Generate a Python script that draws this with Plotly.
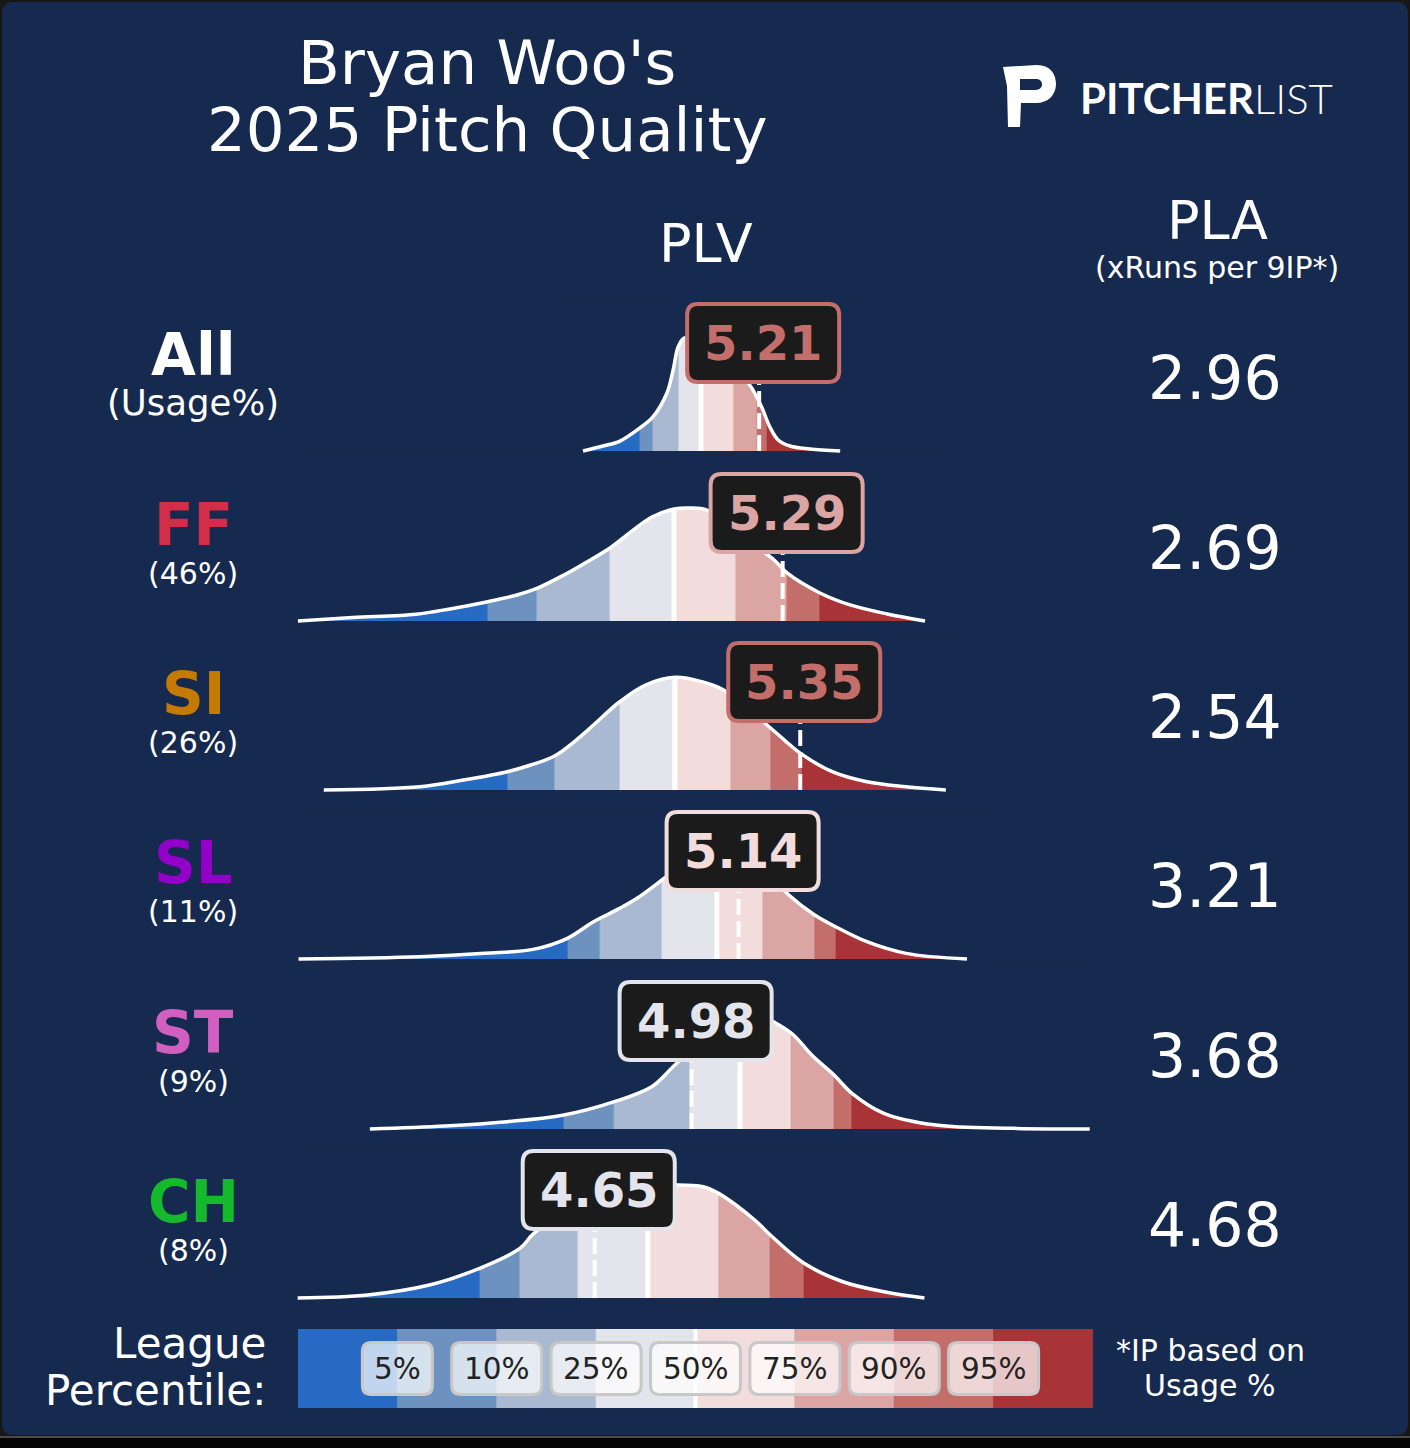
import numpy as np
import plotly.graph_objects as go

W, H = 1410, 1448
NAVY = '#16294f'
FONT = 'DejaVu Sans'

PITCHES = ['All', 'FF', 'SI', 'SL', 'ST', 'CH']
USAGE = ['(Usage%)', '(46%)', '(26%)', '(11%)', '(9%)', '(8%)']
PITCH_COLORS = ['#ffffff', '#d22d49', '#c57a02', '#9300c7', '#d15fc0', '#14ba2c']
PLV = [5.21, 5.29, 5.35, 5.14, 4.98, 4.65]
PLA = [2.96, 2.69, 2.54, 3.21, 3.68, 4.68]

PCTL_LABELS = ['5%', '10%', '25%', '50%', '75%', '90%', '95%']
BAND_COLORS = ['#266ac4', '#6e92c0', '#a9b9d1', '#e4e5ec',
               '#f2dcdc', '#daa5a2', '#c46e6c', '#a83438']

# density curves: x in PLV, y relative to the peak height
ALL_X = [4.610, 4.678, 4.736, 4.804, 4.848, 4.896, 4.917, 4.934, 4.954, 4.981, 5.026,
         5.077, 5.128, 5.179, 5.203, 5.220, 5.247, 5.274, 5.315, 5.383, 5.486]
ALL_Y = [0, 0.044, 0.088, 0.204, 0.301, 0.513, 0.717, 0.920, 1.0, 0.99, 0.93,
         0.85, 0.72, 0.58, 0.47, 0.38, 0.21, 0.10, 0.044, 0.018, 0]
ALL_PCTL = [4.804, 4.848, 4.937, 5.012, 5.124, 5.203, 5.237]

FF_X = [3.639, 3.826, 4.041, 4.157, 4.286, 4.385, 4.453, 4.545, 4.617, 4.702, 4.773, 4.845,
        4.920, 4.974, 5.032, 5.131, 5.179, 5.261, 5.305, 5.417, 5.520, 5.646, 5.775]
FF_Y = [0, 0.03, 0.06, 0.107, 0.171, 0.230, 0.289, 0.407, 0.513, 0.646, 0.788, 0.920,
        0.991, 1.0, 0.982, 0.805, 0.699, 0.540, 0.425, 0.248, 0.142, 0.062, 0]
FF_PCTL = [4.286, 4.453, 4.702, 4.920, 5.131, 5.305, 5.417]

SI_X = [3.727, 4.055, 4.203, 4.353, 4.432, 4.513, 4.587, 4.646, 4.735, 4.823, 4.924,
        5.015, 5.089, 5.163, 5.237, 5.296, 5.351, 5.459, 5.577, 5.710, 5.846]
SI_Y = [0, 0.029, 0.088, 0.162, 0.221, 0.301, 0.442, 0.575, 0.781, 0.929, 0.997,
        0.958, 0.885, 0.737, 0.575, 0.442, 0.324, 0.162, 0.073, 0.029, 0]
SI_PCTL = [4.354, 4.514, 4.736, 4.923, 5.114, 5.250, 5.356]

SL_X = [3.641, 4.054, 4.276, 4.440, 4.557, 4.646, 4.735, 4.794, 4.879, 4.940,
        5.009, 5.094, 5.179, 5.247, 5.311, 5.399, 5.470, 5.577, 5.710, 5.918]
SL_Y = [0, 0.02, 0.05, 0.085, 0.183, 0.330, 0.448, 0.537, 0.699, 0.82,
        0.94, 1.0, 0.92, 0.74, 0.566, 0.389, 0.286, 0.153, 0.05, 0]
SL_PCTL = [4.559, 4.668, 4.879, 5.066, 5.223, 5.400, 5.472]

ST_X = [3.884, 4.140, 4.351, 4.545, 4.717, 4.844, 4.923, 5.009, 5.077, 5.162, 5.213,
        5.266, 5.327, 5.389, 5.465, 5.526, 5.635, 5.812, 6.075, 6.336]
ST_Y = [0, 0.027, 0.065, 0.124, 0.242, 0.374, 0.566, 0.761, 0.894, 0.982, 1.0,
        0.938, 0.832, 0.655, 0.478, 0.316, 0.139, 0.035, 0.006, 0.0]
ST_PCTL = [4.545, 4.716, 4.974, 5.145, 5.319, 5.465, 5.526]

CH_X = [3.638, 3.876, 4.087, 4.258, 4.395, 4.440, 4.532, 4.668, 4.804, 4.923, 5.019,
        5.072, 5.195, 5.248, 5.363, 5.495, 5.636, 5.773]
CH_Y = [0, 0.027, 0.115, 0.263, 0.439, 0.565, 0.73, 0.885, 0.975, 1.0, 0.985,
        0.926, 0.69, 0.558, 0.307, 0.144, 0.055, 0.0]
CH_PCTL = [4.259, 4.395, 4.593, 4.831, 5.073, 5.247, 5.363]

MEDIAN_H = [0.95, 0.99, 0.99, 0.98, 0.97, 0.99]

CURVES = [(ALL_X, ALL_Y, ALL_PCTL), (FF_X, FF_Y, FF_PCTL), (SI_X, SI_Y, SI_PCTL),
          (SL_X, SL_Y, SL_PCTL), (ST_X, ST_Y, ST_PCTL), (CH_X, CH_Y, CH_PCTL)]

# layout (pixels)
ROW_BASE = [451, 621, 790, 959, 1129, 1298]
PEAK_PX = 113
PX_PER_PLV = 293.5
X_DOM_PX = (290, 1100)
XRANGE = [3.612, 6.371]
Y_LO, Y_HI = -0.05, 1.4
LEG_X_PX = (298, 1093)
LEG_Y_PX = (1329, 1408)


def pxx(x):
    return x / W


def pxy(y):
    return 1 - y / H


def rrect(x0, y0, x1, y1, rx, ry):
    return (f'M{x0 + rx},{y0} L{x1 - rx},{y0} Q{x1},{y0} {x1},{y0 + ry} '
            f'L{x1},{y1 - ry} Q{x1},{y1} {x1 - rx},{y1} L{x0 + rx},{y1} '
            f'Q{x0},{y1} {x0},{y1 - ry} L{x0},{y0 + ry} Q{x0},{y0} {x0 + rx},{y0} Z')


def axname(i):
    return ('x', 'y') if i == 0 else (f'x{i + 1}', f'y{i + 1}')


fig = go.Figure()
layout_axes = {}
annotations = []
shapes = []

for i, (cx, cy, pc) in enumerate(CURVES):
    xa, ya = axname(i)
    base = ROW_BASE[i]
    bottom = base - Y_LO * PEAK_PX
    top = base - Y_HI * PEAK_PX
    key = '' if i == 0 else str(i + 1)
    layout_axes['xaxis' + key] = dict(domain=[pxx(X_DOM_PX[0]), pxx(X_DOM_PX[1])], range=XRANGE,
                                      visible=False, anchor=ya, fixedrange=True)
    layout_axes['yaxis' + key] = dict(domain=[pxy(bottom), pxy(top)], range=[Y_LO, Y_HI],
                                      visible=False, anchor=xa, fixedrange=True)

    # percentile bands
    edges = [cx[0]] + pc + [cx[-1]]
    for k, col in enumerate(BAND_COLORS):
        a, b = edges[k], edges[k + 1]
        fig.add_trace(go.Scatter(x=[a, a, b, b], y=[0, 1.15, 1.15, 0], fill='toself', fillcolor=col,
                                 mode='lines', line=dict(width=0.8, color=col),
                                 xaxis=xa, yaxis=ya, hoverinfo='skip'))
    # cover everything above the curve
    d = 0.08
    mx = [cx[0] - d, cx[0] - d] + cx + [cx[-1] + d, cx[-1] + d]
    my = [Y_HI, 0] + cy + [0, Y_HI]
    fig.add_trace(go.Scatter(x=mx, y=my, fill='toself', fillcolor=NAVY, mode='lines',
                             line=dict(width=0, color=NAVY, shape='spline', smoothing=1),
                             xaxis=xa, yaxis=ya, hoverinfo='skip'))
    # median
    fig.add_trace(go.Scatter(x=[pc[3], pc[3]], y=[0, MEDIAN_H[i]], mode='lines',
                             line=dict(color='white', width=5), xaxis=xa, yaxis=ya, hoverinfo='skip'))
    # pitcher's value
    v = PLV[i]
    fig.add_trace(go.Scatter(x=[v, v], y=[0, 0.95], mode='lines',
                             line=dict(color='white', width=4, dash='16px,6px'),
                             xaxis=xa, yaxis=ya, hoverinfo='skip'))
    # outline
    fig.add_trace(go.Scatter(x=cx, y=cy, mode='lines',
                             line=dict(color='white', width=3.5, shape='spline', smoothing=1),
                             xaxis=xa, yaxis=ya, hoverinfo='skip'))

    # value label
    band = int(np.searchsorted(pc, v))
    col = BAND_COLORS[band]
    bx = v + 4 / PX_PER_PLV
    by = 0.955
    hw, hh = 76 / PX_PER_PLV, 39 / PEAK_PX
    shapes.append(dict(type='path', xref=xa, yref=ya, layer='above',
                       path=rrect(bx - hw, by - hh, bx + hw, by + hh, 11 / PX_PER_PLV, 11 / PEAK_PX),
                       fillcolor='#1b1b1b', line=dict(color=col, width=4)))
    annotations.append(dict(xref=xa, yref=ya, x=bx, y=by, text=f'{v:.2f}', showarrow=False,
                            xanchor='center', yanchor='middle',
                            font=dict(family=FONT, size=48, color=col, weight='bold')))

    # row label, usage and PLA
    annotations.append(dict(xref='paper', yref='paper', x=pxx(193), y=pxy(base - 96), text=PITCHES[i],
                            showarrow=False, xanchor='center', yanchor='middle',
                            font=dict(family=FONT, size=58, color=PITCH_COLORS[i], weight='bold')))
    annotations.append(dict(xref='paper', yref='paper', x=pxx(193), y=pxy(base - 48), text=USAGE[i],
                            showarrow=False, xanchor='center', yanchor='middle',
                            font=dict(family=FONT, size=35.5 if i == 0 else 30, color='white')))
    annotations.append(dict(xref='paper', yref='paper', x=pxx(1215), y=pxy(base - 73),
                            text=f'{PLA[i]:.2f}', showarrow=False, xanchor='center', yanchor='middle',
                            font=dict(family=FONT, size=60, color='white')))

# legend bar
layout_axes['xaxis7'] = dict(domain=[pxx(LEG_X_PX[0]), pxx(LEG_X_PX[1])], range=[0, 8],
                             visible=False, anchor='y7', fixedrange=True)
layout_axes['yaxis7'] = dict(domain=[pxy(LEG_Y_PX[1]), pxy(LEG_Y_PX[0])], range=[0, 1],
                             visible=False, anchor='x7', fixedrange=True)
for k, col in enumerate(BAND_COLORS):
    fig.add_trace(go.Scatter(x=[k, k, k + 1, k + 1], y=[0, 1, 1, 0], fill='toself', fillcolor=col,
                             mode='lines', line=dict(width=0.8, color=col),
                             xaxis='x7', yaxis='y7', hoverinfo='skip'))
fig.add_trace(go.Scatter(x=[4, 4], y=[0, 1], mode='lines', line=dict(color='white', width=4),
                         xaxis='x7', yaxis='y7', hoverinfo='skip'))
unit_x = (LEG_X_PX[1] - LEG_X_PX[0]) / 8
unit_y = LEG_Y_PX[1] - LEG_Y_PX[0]
for k, lab in enumerate(PCTL_LABELS):
    c = k + 1
    hw = (30 + 20 * len(lab)) / 2 / unit_x
    hh = 26 / unit_y
    shapes.append(dict(type='path', xref='x7', yref='y7', layer='above',
                       path=rrect(c - hw, 0.5 - hh, c + hw, 0.5 + hh, 9 / unit_x, 9 / unit_y),
                       fillcolor='rgba(255,255,255,0.72)', line=dict(color='#c8c8c8', width=3)))
    annotations.append(dict(xref='x7', yref='y7', x=c, y=0.5, text=lab, showarrow=False,
                            xanchor='center', yanchor='middle',
                            font=dict(family=FONT, size=29.5, color='#222222')))

# headings and notes
texts = [
    ("Bryan Woo's", 487, 62, 61, 'center'),
    ('2025 Pitch Quality', 487, 130, 61, 'center'),
    ('PLV', 706, 243, 54, 'center'),
    ('PLA', 1217, 220, 54, 'center'),
    ('(xRuns per 9IP*)', 1217, 267, 30, 'center'),
    ('League', 268, 1343, 42, 'right'),
    ('Percentile:', 268, 1390, 42, 'right'),
    ('*IP based on', 1210, 1350, 30, 'center'),
    ('Usage %', 1210, 1385, 30, 'center'),
]
for t, x, y, s, anc in texts:
    annotations.append(dict(xref='paper', yref='paper', x=pxx(x), y=pxy(y), text=t, showarrow=False,
                            xanchor=anc, yanchor='middle', font=dict(family=FONT, size=s, color='white')))

annotations.append(dict(xref='paper', yref='paper', x=pxx(1078), y=pxy(98),
                        text='<b>PITCHER</b><span style="font-weight:300">LIST</span>',
                        showarrow=False, xanchor='left', yanchor='middle',
                        font=dict(family='Lato', size=42, color='white')))


def P(x, y):
    return f'{pxx(x):.5f},{pxy(y):.5f}'


logo = ('M' + P(1003, 67) + ' L' + P(1037, 65) + ' C' + P(1050, 65) + ' ' + P(1056, 74) + ' ' + P(1056, 84)
        + ' C' + P(1056, 95) + ' ' + P(1048, 103) + ' ' + P(1036, 103) + ' L' + P(1021, 103)
        + ' L' + P(1020, 127) + ' L' + P(1008, 127) + ' L' + P(1007, 86) + ' Z '
        + 'M' + P(1020, 79) + ' L' + P(1020, 90) + ' L' + P(1035, 90) + ' C' + P(1040, 90) + ' '
        + P(1042, 87) + ' ' + P(1042, 84.5) + ' C' + P(1042, 81) + ' ' + P(1040, 79) + ' ' + P(1035, 79) + ' Z')
shapes.append(dict(type='path', xref='paper', yref='paper', path=logo, fillcolor='white',
                   line=dict(width=0), layer='above'))

# navy card and dark frame
shapes.insert(0, dict(type='path', xref='paper', yref='paper', layer='below',
                      path=rrect(pxx(2), pxy(1435), pxx(1408), pxy(2), 12 / W, 12 / H),
                      fillcolor=NAVY, line=dict(width=0)))
shapes.insert(1, dict(type='rect', xref='paper', yref='paper', layer='below',
                      x0=0, x1=1, y0=pxy(1448), y1=pxy(1438), fillcolor='#060606', line=dict(width=0)))
shapes.insert(2, dict(type='line', xref='paper', yref='paper', layer='below',
                      x0=0, x1=1, y0=pxy(1437), y1=pxy(1437), line=dict(color='#4a4a4a', width=2)))

fig.update_layout(width=W, height=H, margin=dict(l=0, r=0, t=0, b=0),
                  paper_bgcolor='#171717', plot_bgcolor='rgba(0,0,0,0)',
                  showlegend=False, annotations=annotations, shapes=shapes,
                  font=dict(family=FONT), **layout_axes)

fig.write_html('out.html', config={'displayModeBar': False},
               post_script="document.body.style.margin='0';")
